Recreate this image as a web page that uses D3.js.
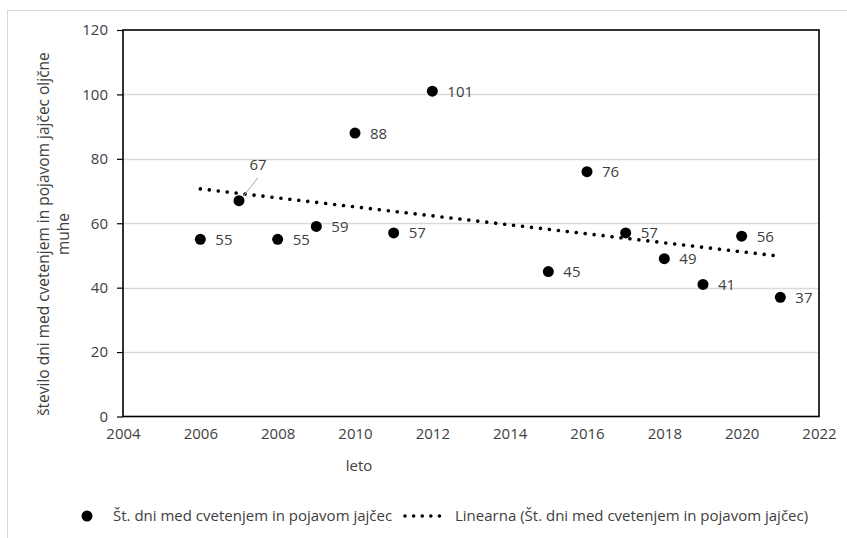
<!DOCTYPE html>
<html>
<head>
<meta charset="utf-8">
<script src="https://cdn.jsdelivr.net/npm/d3@7"></script>
<style>
  html, body { margin: 0; padding: 0; background: #fff; }
  svg { display: block; font-family: "Open Sans", Lato, sans-serif; }
</style>
</head>
<body>
<svg id="chart" width="847" height="538"></svg>
<script>
// Years and number of days between flowering and first eggs
const years = [2006, 2007, 2008, 2009, 2010, 2011, 2012, 2015, 2016, 2017, 2018, 2019, 2020, 2021];
const days  = [55, 67, 55, 59, 88, 57, 101, 45, 76, 57, 49, 41, 56, 37];
const xTicks = [2004, 2006, 2008, 2010, 2012, 2014, 2016, 2018, 2020, 2022];
const yTicks = [0, 20, 40, 60, 80, 100, 120];

const seriesName = "Št. dni med cvetenjem in pojavom jajčec";
const trendName = "Linearna (Št. dni med cvetenjem in pojavom jajčec)";
const xTitle = "leto";
const yTitleLines = ["število dni med cvetenjem in pojavom jajčec oljčne", "muhe"];

const svg = d3.select("#chart");
const textColor = "#404040";
const font = "'Open Sans'";

// outer chart border
svg.append("rect")
  .attr("x", 7.5).attr("y", 10.5).attr("width", 860).attr("height", 560)
  .attr("fill", "none").attr("stroke", "#d9d9d9").attr("stroke-width", 1);

const plot = { left: 123, right: 819, top: 30, bottom: 416.5 };
const x = d3.scaleLinear().domain([2004, 2022]).range([plot.left, plot.right]);
const y = d3.scaleLinear().domain([0, 120]).range([plot.bottom, plot.top]);

// horizontal gridlines
svg.append("g")
  .selectAll("line")
  .data(yTicks.filter(t => t > 0 && t < 120))
  .join("line")
  .attr("x1", plot.left).attr("x2", plot.right)
  .attr("y1", d => Math.round(y(d)) + 0.5).attr("y2", d => Math.round(y(d)) + 0.5)
  .attr("stroke", "#d9d9d9").attr("stroke-width", 1.5);

// plot frame
svg.append("rect")
  .attr("x", plot.left).attr("y", plot.top)
  .attr("width", plot.right - plot.left).attr("height", plot.bottom - plot.top)
  .attr("fill", "none").attr("stroke", "#000").attr("stroke-width", 1.6);

// y axis
const yAxis = svg.append("g")
  .attr("transform", `translate(${plot.left},0)`)
  .call(d3.axisLeft(y).tickValues(yTicks).tickSize(6).tickPadding(9).tickFormat(d3.format("d")));
yAxis.select(".domain").remove();
yAxis.selectAll(".tick line").attr("stroke", "#000").attr("stroke-width", 1.2);
yAxis.selectAll(".tick text")
  .attr("fill", textColor).style("font-size", "15px").style("font-family", font);

// x axis labels
const xAxis = svg.append("g")
  .attr("transform", `translate(0,${plot.bottom})`)
  .call(d3.axisBottom(x).tickValues(xTicks).tickSize(0).tickPadding(12).tickFormat(d3.format("d")));
xAxis.select(".domain").remove();
xAxis.selectAll(".tick text")
  .attr("fill", textColor).style("font-size", "15px").style("font-family", font);

// axis titles
svg.append("text")
  .attr("x", 359).attr("y", 471)
  .attr("text-anchor", "middle")
  .attr("fill", textColor).style("font-size", "15px")
  .text(xTitle);

const yTitle = svg.append("text")
  .attr("transform", "translate(49,234) rotate(-90)")
  .attr("text-anchor", "middle")
  .attr("fill", textColor).style("font-size", "15.5px");
yTitleLines.forEach((line, i) => {
  yTitle.append("tspan").attr("x", 0).attr("dy", i === 0 ? 0 : 20).text(line);
});

// linear trend (least squares)
const mx = d3.mean(years), my = d3.mean(days);
const sxy = d3.sum(years, (v, i) => (v - mx) * (days[i] - my));
const sxx = d3.sum(years, v => (v - mx) * (v - mx));
const slope = sxy / sxx;
const intercept = my - slope * mx;
const x0 = d3.min(years), x1 = d3.max(years);
svg.append("line")
  .attr("x1", x(x0)).attr("y1", y(intercept + slope * x0))
  .attr("x2", x(x1)).attr("y2", y(intercept + slope * x1))
  .attr("stroke", "#000").attr("stroke-width", 3.6)
  .attr("stroke-linecap", "round").attr("stroke-dasharray", "0.01 9");

// points
const pts = years.map((yr, i) => ({ yr, v: days[i] }));
svg.append("g")
  .selectAll("circle")
  .data(pts)
  .join("circle")
  .attr("cx", d => x(d.yr)).attr("cy", d => y(d.v))
  .attr("r", 5.5).attr("fill", "#000");

// data labels; 2007 label sits above with a leader line
const labels = svg.append("g").style("font-size", "15px").attr("fill", textColor);
pts.forEach(d => {
  if (d.yr === 2007) {
    svg.append("line")
      .attr("x1", x(d.yr) + 4).attr("y1", y(d.v) - 4)
      .attr("x2", x(d.yr) + 19).attr("y2", y(d.v) - 23)
      .attr("stroke", "#a6a6a6").attr("stroke-width", 1);
    labels.append("text")
      .attr("x", x(d.yr) + 19).attr("y", y(d.v) - 31)
      .attr("text-anchor", "middle")
      .text(d.v);
  } else {
    labels.append("text")
      .attr("x", x(d.yr) + 15).attr("y", y(d.v) + 5.5)
      .text(d.v);
  }
});

// legend
const lg = svg.append("g").attr("fill", textColor).style("font-size", "15px");
lg.append("circle").attr("cx", 87).attr("cy", 516).attr("r", 5.5).attr("fill", "#000");
lg.append("text").attr("x", 113).attr("y", 521).text(seriesName);
svg.append("line")
  .attr("x1", 405).attr("y1", 516).attr("x2", 448).attr("y2", 516)
  .attr("stroke", "#000").attr("stroke-width", 3.6)
  .attr("stroke-linecap", "round").attr("stroke-dasharray", "0.01 8.6");
lg.append("text").attr("x", 455).attr("y", 521).text(trendName);
</script>
</body>
</html>
